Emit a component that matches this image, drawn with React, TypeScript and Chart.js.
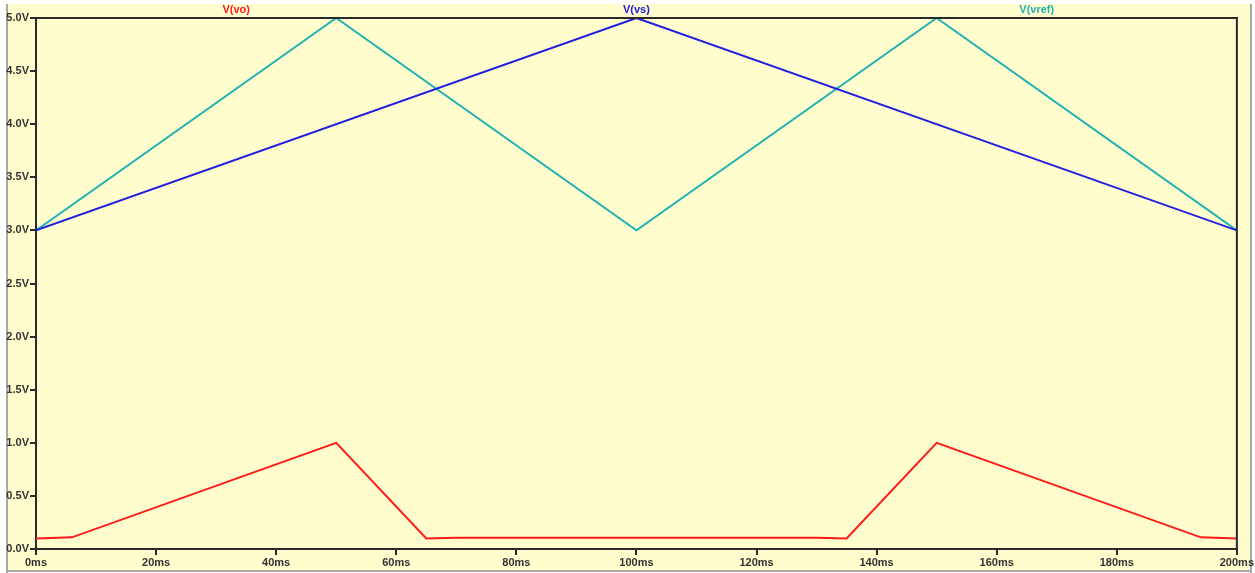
import React, { useEffect, useRef } from "react";
import { Chart, registerables } from "chart.js";

Chart.register(...registerables);

// Simulation traces (time in ms, voltage in V)
const vsTimes = [0, 100, 200];
const vsValues = [3.0, 5.0, 3.0];

const vrefTimes = [0, 50, 100, 150, 200];
const vrefValues = [3.0, 5.0, 3.0, 5.0, 3.0];

const voTimes = [0, 6, 50, 65, 70, 130, 135, 150, 194, 200];
const voValues = [0.1, 0.11, 1.0, 0.1, 0.105, 0.105, 0.1, 1.0, 0.11, 0.1];

const traceNames = ["V(vo)", "V(vs)", "V(vref)"];
const traceColors = ["#FF1A1A", "#2020E0", "#22B2B2"];

const yTicks = [0, 0.5, 1.0, 1.5, 2.0, 2.5, 3.0, 3.5, 4.0, 4.5, 5.0];
const xTicks = [0, 20, 40, 60, 80, 100, 120, 140, 160, 180, 200];

const PANEL = "#FFFDCD";
const AXIS = "#2a2a2a";
const FONT = "'Liberation Sans', Arial, sans-serif";

const toPoints = (xs: number[], ys: number[]) => xs.map((x, i) => ({ x, y: ys[i] }));

// Paints the window panel, closes the plot frame and writes the trace names on top.
const panelPlugin = {
  id: "panel",
  beforeDraw(chart: any) {
    const { ctx, width, height } = chart;
    ctx.save();
    ctx.fillStyle = "#ffffff";
    ctx.fillRect(0, 0, width, height);
    ctx.fillStyle = "#a8a8a8";
    ctx.fillRect(6, 4, 2, height - 4);
    ctx.fillRect(width - 5, 4, 2, height - 4);
    ctx.fillRect(6, height - 3, width - 9, 2);
    ctx.fillStyle = PANEL;
    ctx.fillRect(8, 4, width - 13, height - 7);
    ctx.restore();
  },
  afterDraw(chart: any) {
    const { ctx, chartArea } = chart;
    const { left, right, top, bottom } = chartArea;
    ctx.save();
    ctx.strokeStyle = AXIS;
    ctx.lineWidth = 2;
    ctx.beginPath();
    ctx.moveTo(left, top);
    ctx.lineTo(right, top);
    ctx.lineTo(right, bottom);
    ctx.stroke();
    ctx.font = `bold 11px ${FONT}`;
    ctx.textAlign = "center";
    ctx.textBaseline = "middle";
    const w = right - left;
    chart.data.datasets.forEach((ds: any, i: number) => {
      ctx.fillStyle = ds.borderColor;
      ctx.fillText(ds.label, left + (w * (2 * i + 1)) / 6, top - 8);
    });
    ctx.restore();
  },
};

export default function App() {
  const canvasRef = useRef<HTMLCanvasElement | null>(null);

  useEffect(() => {
    if (!canvasRef.current) return;
    const seriesX = [voTimes, vsTimes, vrefTimes];
    const seriesY = [voValues, vsValues, vrefValues];
    const chart = new Chart(canvasRef.current, {
      type: "line",
      data: {
        datasets: traceNames.map((name, i) => ({
          label: name,
          data: toPoints(seriesX[i], seriesY[i]),
          borderColor: traceColors[i],
          backgroundColor: traceColors[i],
          borderWidth: 2,
          pointRadius: 0,
          tension: 0,
          fill: false,
        })),
      },
      options: {
        animation: false,
        responsive: false,
        maintainAspectRatio: false,
        layout: { padding: { left: 0, top: 18, right: 18, bottom: 0 } },
        plugins: {
          legend: { display: false },
          title: { display: false },
          tooltip: { enabled: false },
        },
        scales: {
          x: {
            type: "linear",
            min: 0,
            max: 200,
            afterFit: (scale: any) => {
              scale.height = 24;
            },
            afterBuildTicks: (scale: any) => {
              scale.ticks = xTicks.map((v) => ({ value: v }));
            },
            ticks: {
              color: "#333",
              font: { family: FONT, size: 11, weight: "bold" },
              padding: 1,
              maxRotation: 0,
              autoSkip: false,
              callback: (v: any) => `${v}ms`,
            },
            grid: {
              drawOnChartArea: false,
              drawTicks: true,
              tickLength: 6,
              color: AXIS,
              lineWidth: 2,
            },
            border: { display: true, color: AXIS, width: 2 },
          },
          y: {
            type: "linear",
            min: 0,
            max: 5,
            afterFit: (scale: any) => {
              scale.width = 36;
            },
            afterBuildTicks: (scale: any) => {
              scale.ticks = yTicks.map((v) => ({ value: v }));
            },
            ticks: {
              color: "#333",
              font: { family: FONT, size: 11, weight: "bold" },
              padding: 1,
              autoSkip: false,
              callback: (v: any) => `${Number(v).toFixed(1)}V`,
            },
            grid: {
              drawOnChartArea: false,
              drawTicks: true,
              tickLength: 6,
              color: AXIS,
              lineWidth: 2,
            },
            border: { display: true, color: AXIS, width: 2 },
          },
        },
      },
      plugins: [panelPlugin],
    });
    return () => chart.destroy();
  }, []);

  return (
    <div style={{ position: "absolute", left: 0, top: 0, width: 1255, height: 573 }}>
      <canvas ref={canvasRef} width={1255} height={573} style={{ display: "block" }} />
    </div>
  );
}
